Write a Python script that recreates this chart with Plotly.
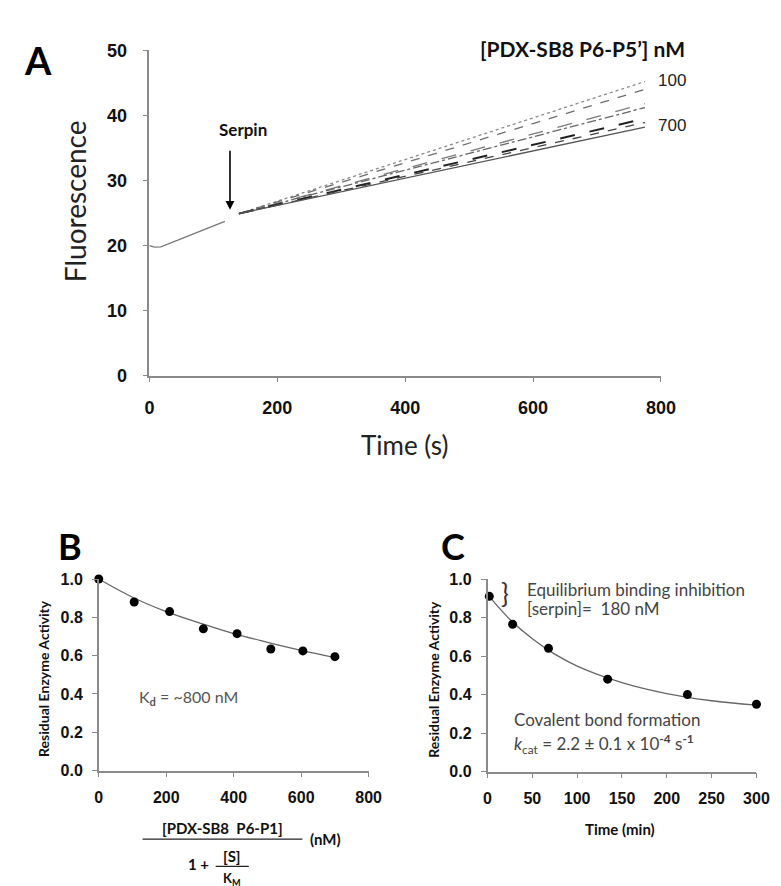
import plotly.graph_objects as go

W, H = 781, 886
def px(x): return x / W
def py(y): return 1 - y / H

# ---------------- Panel A data ----------------
pre_time = [0, 8, 18, 118]
pre_fluor = [20.0, 19.75, 19.8, 23.7]
post_time = [140, 775]
conc_labels = ["100", "200", "300", "400", "500", "600", "700"]
post_start = [24.9, 24.9, 24.9, 24.9, 24.9, 24.9, 24.9]
post_end = [45.2, 44.0, 41.8, 41.2, 39.5, 38.9, 38.2]
line_dash = ["dot", "dash", "longdash", "dashdot", "longdash", "dash", "solid"]
line_col = ["#8a8a8a", "#6e6e6e", "#7a7a7a", "#666666", "#222222", "#444444", "#555555"]
line_w = [1.3, 1.3, 1.3, 1.3, 2.0, 1.3, 1.3]

# ---------------- Panel B data ----------------
b_conc = [0, 105, 210, 310, 410, 510, 605, 700]
b_act = [1.0, 0.88, 0.83, 0.74, 0.715, 0.635, 0.625, 0.595]
b_fit_x = [0, 100, 200, 300, 400, 500, 600, 700]
b_fit_y = [1.0, 0.905, 0.83, 0.77, 0.715, 0.67, 0.628, 0.59]

# ---------------- Panel C data ----------------
c_time = [2, 28, 68, 134, 223, 300]
c_act = [0.91, 0.765, 0.64, 0.48, 0.40, 0.35]
c_fit_x = [0, 25, 50, 75, 100, 150, 200, 250, 300]
c_fit_y = [0.92, 0.79, 0.69, 0.61, 0.548, 0.462, 0.405, 0.368, 0.345]

fig = go.Figure()

# Panel A traces
fig.add_trace(go.Scatter(x=pre_time, y=pre_fluor, mode="lines",
                         line=dict(color="#777777", width=1.3),
                         xaxis="x", yaxis="y", showlegend=False))
for i in range(len(conc_labels)):
    fig.add_trace(go.Scatter(x=post_time, y=[post_start[i], post_end[i]], mode="lines",
                             line=dict(color=line_col[i], width=line_w[i], dash=line_dash[i]),
                             xaxis="x", yaxis="y", showlegend=False, name=conc_labels[i]))

# Panel B traces
fig.add_trace(go.Scatter(x=b_fit_x, y=b_fit_y, mode="lines",
                         line=dict(color="#666666", width=1.3, shape="spline"),
                         xaxis="x2", yaxis="y2", showlegend=False))
fig.add_trace(go.Scatter(x=b_conc, y=b_act, mode="markers", cliponaxis=False,
                         marker=dict(color="black", size=9),
                         xaxis="x2", yaxis="y2", showlegend=False))

# Panel C traces
fig.add_trace(go.Scatter(x=c_fit_x, y=c_fit_y, mode="lines",
                         line=dict(color="#666666", width=1.3, shape="spline"),
                         xaxis="x3", yaxis="y3", showlegend=False))
fig.add_trace(go.Scatter(x=c_time, y=c_act, mode="markers", cliponaxis=False,
                         marker=dict(color="black", size=9),
                         xaxis="x3", yaxis="y3", showlegend=False))

tickfont_big = dict(family="Liberation Sans, Arial", size=18, color="#111111", weight="bold")
tickfont_small = dict(family="Liberation Sans, Arial", size=16, color="#111111", weight="bold")
axcommon = dict(showgrid=False, zeroline=False, showline=True, linecolor="#8a8a8a",
                linewidth=1.5, ticks="outside", tickcolor="#8a8a8a", ticklen=5, tickwidth=1.2)

fig.update_layout(
    width=W, height=H, margin=dict(l=0, r=0, t=0, b=0),
    paper_bgcolor="white", plot_bgcolor="white",
    xaxis=dict(domain=[px(140), px(665)], range=[0, 800], tickvals=[0, 200, 400, 600, 800],
               anchor="y", tickfont=tickfont_big, ticklabelstandoff=10, **axcommon),
    yaxis=dict(domain=[py(366), py(33)], range=[0, 50], tickvals=[0, 10, 20, 30, 40, 50],
               anchor="x", tickfont=tickfont_big, ticklabelstandoff=12, **axcommon),
    xaxis2=dict(domain=[px(88), px(365)], range=[0, 800], tickvals=[0, 200, 400, 600, 800],
                anchor="y2", tickfont=tickfont_small, ticklabelstandoff=6, **axcommon),
    yaxis2=dict(domain=[py(770), py(574)], range=[0, 1.0], tickvals=[0, 0.2, 0.4, 0.6, 0.8, 1.0],
                tickformat=".1f", anchor="x2", tickfont=tickfont_small, ticklabelstandoff=6, **axcommon),
    xaxis3=dict(domain=[px(487), px(763)], range=[0, 300], tickvals=[0, 50, 100, 150, 200, 250, 300],
                anchor="y3", tickfont=tickfont_small, ticklabelstandoff=6, **axcommon),
    yaxis3=dict(domain=[py(771), py(574)], range=[0, 1.0], tickvals=[0, 0.2, 0.4, 0.6, 0.8, 1.0],
                tickformat=".1f", anchor="x3", tickfont=tickfont_small, ticklabelstandoff=6, **axcommon),
)

calibri = "Lato, Carlito, Calibri, sans-serif"
ann = []
def T(x, y, text, size, bold=False, color="#111111", xanchor="center", yanchor="middle", angle=0, fam=calibri):
    ann.append(dict(x=px(x), y=py(y), xref="paper", yref="paper", text=text, showarrow=False,
                    xanchor=xanchor, yanchor=yanchor, textangle=angle,
                    font=dict(family=fam, size=size, color=color, weight="bold" if bold else "normal")))

# Panel letters
T(26, 43, "A", 38, bold=True, color="black")
T(58, 540, "B", 36, bold=True, color="black")
T(452, 540, "C", 36, bold=True, color="black")

# Panel A texts
T(692, 31, "[PDX-SB8 P6-P5’] nM", 21, bold=True, xanchor="right")
T(660, 64, "100", 17, color="#222222", xanchor="left", fam="Liberation Sans, Arial")
T(660, 110, "700", 17, color="#222222", xanchor="left", fam="Liberation Sans, Arial")
T(236, 114, "Serpin", 17, bold=True)
T(63, 187, "Fluorescence", 28, color="#222222", angle=-90)
T(402, 437, "Time (s)", 26, color="#222222")

# Serpin arrow
ann.append(dict(x=126, y=25.5, xref="x", yref="y", ax=126, ay=34.8, axref="x", ayref="y",
                showarrow=True, arrowhead=2, arrowsize=1.1, arrowwidth=1.6, arrowcolor="black", text=""))

# Panel B texts
T(32, 676, "Residual Enzyme Activity", 14, bold=True, angle=-90)
T(127, 695, "K<sub><b>d</b></sub> = ~800 nM", 16, color="#555555", xanchor="left")
T(215, 829, "[PDX-SB8  P6-P1]", 15, bold=True)
T(303, 840, "(nM)", 15, bold=True, xanchor="left")
T(190, 866, "1 +", 15, bold=True)
T(225, 857, "[S]", 15, bold=True)
T(225, 881, "K<sub>M</sub>", 13, bold=True)

# Panel C texts
T(432, 676, "Residual Enzyme Activity", 14, bold=True, angle=-90)
T(505, 588, "}", 26, color="#333333")
T(525, 585, "Equilibrium binding inhibition", 17, color="#444444", xanchor="left")
T(525, 604, "[serpin]=  180 nM", 17, color="#444444", xanchor="left")
T(512, 718, "Covalent bond formation", 17, color="#444444", xanchor="left")
T(512, 743, "<i>k</i><sub>cat</sub> = 2.2 ± 0.1 x 10<sup><b>-4</b></sup> s<sup><b>-1</b></sup>", 17,
  color="#444444", xanchor="left")
T(623, 830, "Time (min)", 15, bold=True)

fig.update_layout(annotations=ann)

# fraction bars for panel B x-axis title
fig.add_shape(type="line", xref="paper", yref="paper", x0=px(133), x1=px(297), y0=py(840), y1=py(840),
              line=dict(color="#222222", width=1.3))
fig.add_shape(type="line", xref="paper", yref="paper", x0=px(208), x1=px(242), y0=py(868), y1=py(868),
              line=dict(color="#222222", width=1.1))

fig.write_html("out.html")
